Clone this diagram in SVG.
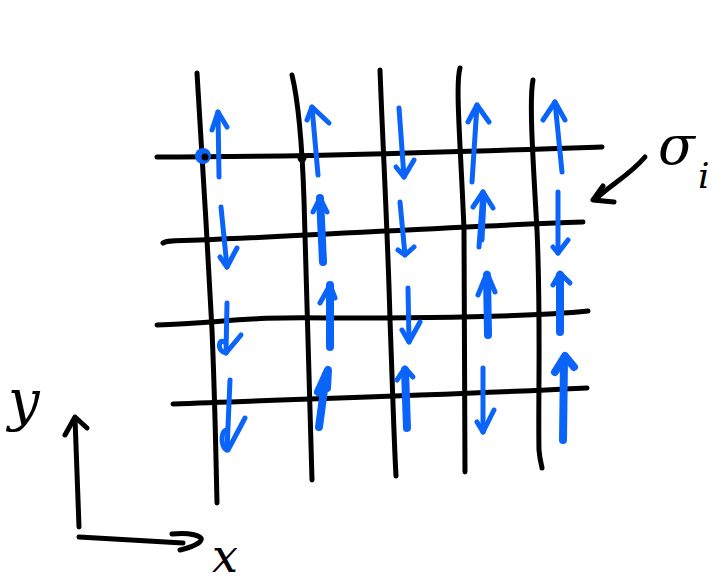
<svg xmlns="http://www.w3.org/2000/svg" width="721" height="586" viewBox="0 0 721 586">
<style>
.k{fill:none;stroke:#000;stroke-width:5;stroke-linecap:round;stroke-linejoin:round}
.b{fill:none;stroke:#0a64fa;stroke-width:5;stroke-linecap:round;stroke-linejoin:round}
.bt{stroke-width:8}
.lbl{font-family:"DejaVu Serif","Liberation Serif",serif;font-style:italic;fill:#000}
</style>
<rect width="721" height="586" fill="#fff"/>
<g id="lattice">
<path class="k" d="M197,73 C201,140 208,250 212,330 C215,400 216,460 217,503"/>
<path class="k" d="M292,75 C298,100 302,140 304,200 C307,300 310,400 312,480"/>
<path class="k" d="M380,70 C383,150 388,240 390,320 C393,400 394,440 396,476"/>
<path class="k" d="M460,68 C455,85 461,150 464,230 C464,320 464,400 465,472"/>
<path class="k" d="M533,80 C529,100 533,160 537,230 C541,320 538,400 539,450 C540,462 542,466 542,468"/>
<path class="k" d="M157,157 C300,157 450,152 602,147"/>
<path class="k" d="M163,243 C168,240 175,241 200,240 C330,235 460,226 583,222"/>
<path class="k" d="M157,325 C220,323 250,316 330,318 C450,318 540,316 588,311"/>
<path class="k" d="M173,404 C300,399 450,395 587,388"/>
<circle cx="302" cy="158" r="4.5" fill="#000"/>
<circle cx="203" cy="156" r="8" fill="#0a64fa"/>
<circle cx="205" cy="157" r="3.5" fill="#000"/>
</g>
<g id="spins">
<g id="s11"><path class="b" d="M219,177 L218,112"/><path class="b" d="M212,130 L218,112 L227,127"/></g>
<g id="s12"><path class="b" d="M318,175 L312,107"/><path class="b" d="M307,120 L312,107 L329,123"/></g>
<g id="s13"><path class="b" d="M399,108 L404,177"/><path class="b" d="M396,167 L404,177 L414,160"/></g>
<g id="s14"><path class="b" d="M472,182 L477,105"/><path class="b" d="M468,122 L477,105 L489,122"/></g>
<g id="s15"><path class="b" d="M562,172 L555,102"/><path class="b" d="M543,120 L555,102 L565,120"/></g>
<g id="s21"><path class="b" d="M221,207 L227,267"/><path class="b" d="M220,257 L227,267 L237,248"/></g>
<g id="s22"><path class="b bt" d="M323,262 L320,198"/><path class="b" d="M313,212 L320,198 L327,212"/></g>
<g id="s23"><path class="b" d="M400,202 L405,255"/><path class="b" d="M398,250 L405,255 L414,247"/></g>
<g id="s24"><path class="b" d="M479,247 L483,192"/><path class="b" d="M482,240 L484,198"/><path class="b" d="M473,207 L483,192 L493,208"/></g>
<g id="s25"><path class="b" d="M558,192 L558,253"/><path class="b" d="M553,247 L558,253 L568,240"/></g>
<g id="s31"><path class="b" d="M227,303 L226,353"/><path class="b" d="M224,342 C218,338 217,352 226,353 L241,335"/></g>
<g id="s32"><path class="b bt" d="M330,347 L330,285"/><path class="b" d="M320,303 L330,285 L335,298"/></g>
<g id="s33"><path class="b" d="M408,288 L409,342"/><path class="b" d="M402,330 L409,342 L420,322"/></g>
<g id="s34"><path class="b bt" d="M488,335 L487,275"/><path class="b" d="M478,295 L487,273 L495,292"/></g>
<g id="s35"><path class="b bt" d="M560,332 L560,275"/><path class="b" d="M553,285 L560,273 L570,283"/></g>
<g id="s41"><path class="b" d="M230,380 L227,450"/><path class="b" d="M226,430 C220,432 221,450 228,450 L245,418"/></g>
<g id="s42"><path class="b bt" d="M319,427 L326,375"/><path class="b bt" d="M318,392 L328,370 L327,388"/></g>
<g id="s43"><path class="b bt" d="M407,428 L405,370"/><path class="b" d="M397,380 L405,368 L413,377"/></g>
<g id="s44"><path class="b" d="M483,368 L483,432"/><path class="b" d="M477,422 L483,432 L494,410"/></g>
<g id="s45"><path class="b bt" d="M563,440 L564,360"/><path class="b bt" d="M555,372 L565,356 L574,367"/></g>
</g>
<g id="label-sigma">
<path class="k" d="M645,157 C630,175 610,185 597,198"/>
<path class="k" d="M603,186 L593,200 L614,202"/>
<text class="lbl" x="658" y="164" font-size="54">σ</text>
<text class="lbl" x="698" y="188" font-size="36">i</text>
</g>
<g id="axes">
<path class="k" d="M79,527 L75,418"/>
<path class="k" d="M65,435 L75,417 L87,428"/>
<path class="k" d="M79,537 L183,543"/>
<path class="k" d="M172,534 C190,532 203,536 201,540 C199,545 188,548 180,550"/>
<text class="lbl" x="8" y="420" font-size="56">y</text>
<text class="lbl" x="212" y="572" font-size="46">x</text>
</g>
</svg>
